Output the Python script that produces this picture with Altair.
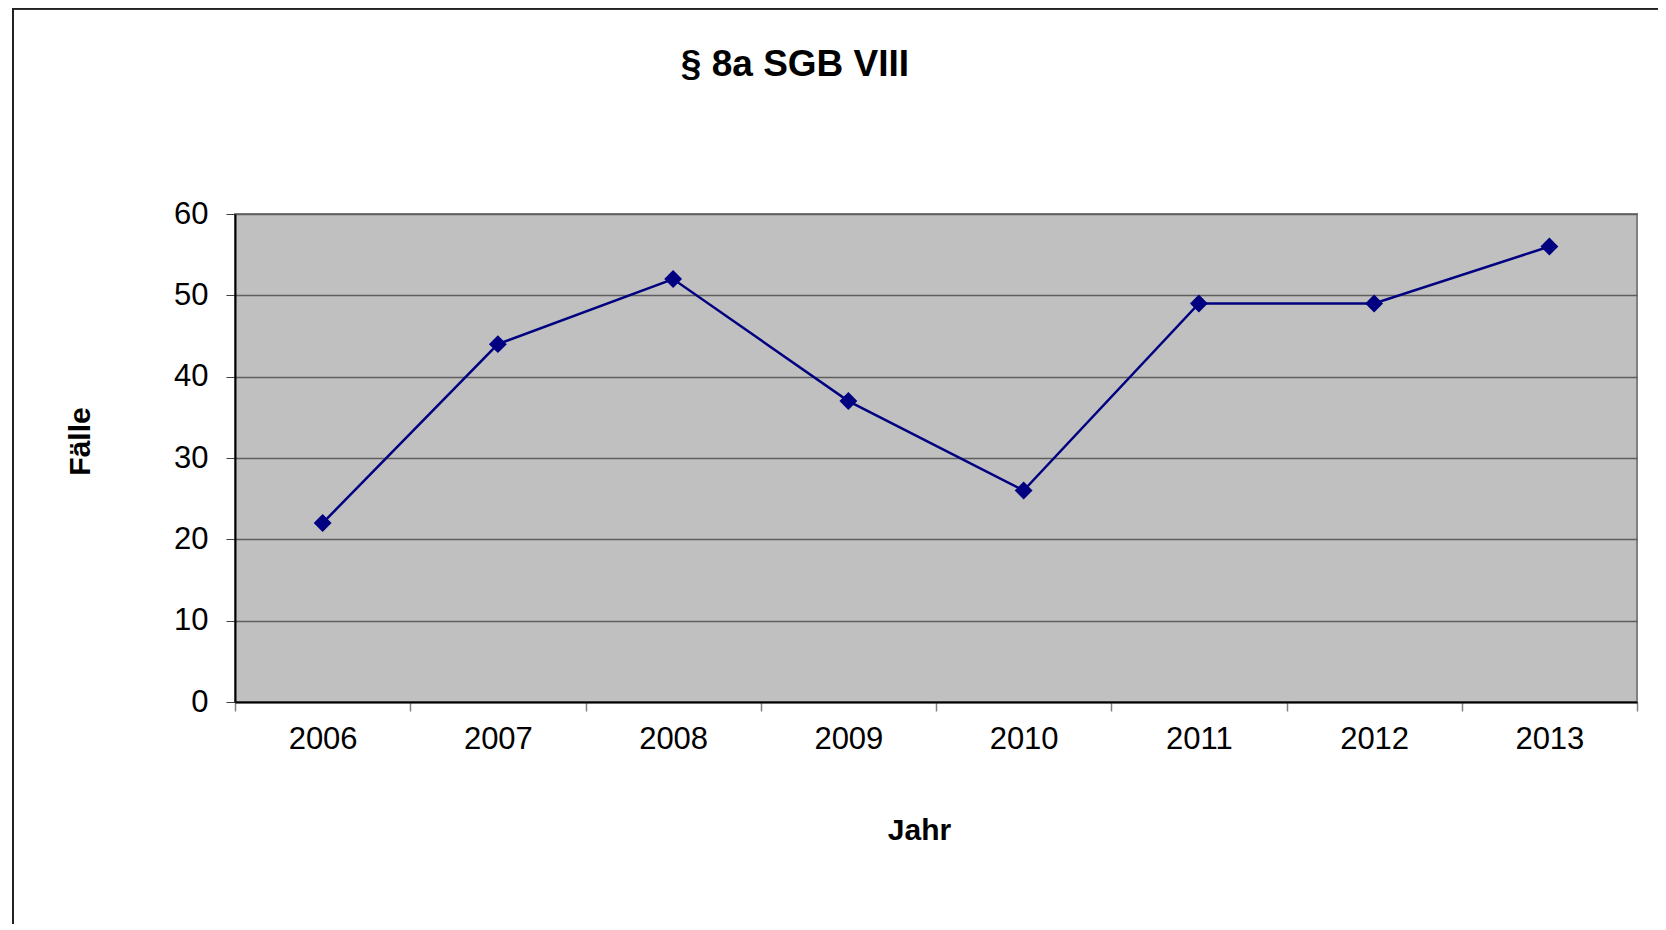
import altair as alt
import pandas as pd

years = ["2006", "2007", "2008", "2009", "2010", "2011", "2012", "2013"]
cases = [22, 44, 52, 37, 26, 49, 49, 56]
y_ticks = [0, 10, 20, 30, 40, 50, 60]

df = pd.DataFrame({"Jahr": years, "Fälle": cases})

FONT = "Liberation Sans"

x_enc = alt.X(
    "Jahr:N",
    sort=years,
    scale=alt.Scale(type="band", paddingInner=0, paddingOuter=0),
    axis=alt.Axis(
        title="Jahr",
        labelAngle=0,
        labelFont=FONT,
        labelFontSize=31,
        labelColor="black",
        labelPadding=13,
        tickBand="extent",
        tickSize=9,
        tickColor="#808080",
        tickWidth=1.5,
        domainColor="black",
        domainWidth=2,
        grid=False,
        titleFont=FONT,
        titleFontSize=30,
        titleFontWeight="bold",
        titleColor="black",
        titleX=684,
        titleY=128,
        titleAlign="center",
        titleBaseline="middle",
    ),
)

y_enc = alt.Y(
    "Fälle:Q",
    scale=alt.Scale(domain=[0, 60], nice=False),
    axis=alt.Axis(
        title="Fälle",
        values=y_ticks,
        labelFont=FONT,
        labelFontSize=31,
        labelColor="black",
        labelPadding=18,
        tickSize=9,
        tickColor="#404040",
        tickWidth=1,
        domainColor="black",
        domainWidth=2,
        grid=True,
        gridColor="#5e5e5e",
        gridWidth=1.3,
        titleFont=FONT,
        titleFontSize=30,
        titleFontWeight="bold",
        titleColor="black",
        titleAngle=270,
        titleX=-155,
        titleY=227,
        titleAlign="center",
        titleBaseline="middle",
    ),
)

frame = alt.Chart(df).mark_rect(
    filled=False, fillOpacity=0, stroke="#222222", strokeWidth=1.5
).encode(
    x=alt.value(-222), x2=alt.value(1600),
    y=alt.value(-205.5), y2=alt.value(900),
)

line = alt.Chart(df).mark_line(color="#000080", strokeWidth=2.5).encode(
    x=x_enc, y=y_enc
)

points = alt.Chart(df).mark_point(
    shape="diamond", filled=True, size=320, color="#000080", opacity=1
).encode(x=x_enc, y=y_enc)

chart = alt.layer(frame, line, points).properties(
    width=1402,
    height=488,
    title=alt.TitleParams(
        text="§ 8a SGB VIII",
        font=FONT,
        fontSize=37,
        fontWeight="bold",
        color="black",
        anchor="middle",
        frame="group",
        baseline="alphabetic",
        dx=-141,
        offset=-105,
    ),
    autosize=alt.AutoSizeParams(type="none"),
    padding={"left": 227, "top": 206, "right": 21, "bottom": 222},
    background="white",
).configure_view(
    fill="#C0C0C0", stroke="#808080", strokeWidth=2
)

chart.save("out.html", embed_options={"renderer": "svg", "actions": False})
